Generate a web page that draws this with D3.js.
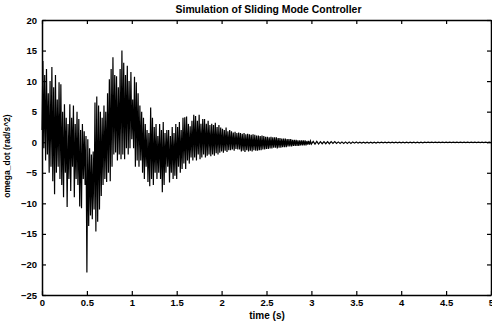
<!DOCTYPE html>
<html>
<head>
<meta charset="utf-8">
<script src="https://cdn.jsdelivr.net/npm/d3@7"></script>
<style>
  html, body { margin: 0; padding: 0; background: #fff; }
  svg text { font-family: "Liberation Sans", Arial, sans-serif; font-weight: bold; fill: #000; }
  .axis path, .axis line { stroke: #000; }
</style>
</head>
<body>
<svg id="chart" width="492" height="322"></svg>
<script>
// omega_dot (rad/s^2), sampled every 0.01 s from 0 to 2.99 s
const earlyStep = 0.01;
const omegaEarly = [
  2, 13.3, -1, 11, -3, 12, -2, 8, -5, 10,
  -4, 12.3, -6.4, 9, -8.5, 11, -5, 7, -4, 9.8,
  -6, 9.5, -7, 5, -9, 6.2, -5, 4, -10.6, 3,
  -6, 6.2, -8, 4, -4, 6, -9, 3, -6, 5,
  -7, 3.8, -10.5, 2, -10.8, 3, -6, 1.8, -7, 1,
  -21.3, 0.5, -13.7, -1, -12, -2, -12.6, -1.5, -11, 6.5,
  -14.6, 7.5, -13, 6, -11, 5, -8.8, 4, -7, 6,
  -6, 5, -6.5, 8, -5, 10.3, -6.4, 12, -4, 13.9,
  -2, 11, -1.7, 10.8, -3, 9, -2, 12, -2.8, 15,
  -2, 13, -2.8, 11, -1, 12.5, -2, 10, -1, 11.5,
  0.5, 7, -1, 10.7, -4, 9.8, -3, 8, -4, 6,
  -3, 5, -5, 4, -6, 3, -4, 2, -6.5, 1.5,
  -7.2, 5.7, -6, 4, -7, 2.5, -5, 3, -6, 1,
  -5, 3, -6, 2, -8.2, 3.3, -7, 1.5, -5, 2,
  -4, 2, -6.6, 1, -5, 2.5, -6, 1.5, -5.5, 3,
  -6, 2.5, -4, 3.3, -5, 2, -4.4, 4, -3.5, 4.1,
  -4.4, 4.2, -3, 3, -3.5, 2.6, -2.5, 3.5, -3, 4.5,
  -2.5, 4.3, -3, 3.5, -2, 4.5, -2.8, 3, -2.5, 3.8,
  -2, 3.8, -2.5, 3, -2.2, 3.5, -2, 2.8, -2.3, 3,
  -2, 2.8, -2.2, 3.2, -1.8, 2.5, -2, 2.8, -1.7, 2.4,
  -1.5, 2.2, -1.7, 2, -1.4, 2.4, -1.6, 1.8, -1.3, 2,
  -1.3, 1.8, -1.2, 1.6, -1.4, 1.7, -1.1, 1.5, -1.2, 1.6,
  -1.2, 1.5, -1.5, 1.4, -1.4, 1.5, -1.6, 1.3, -1.3, 1.4,
  -1.5, 1.3, -1.4, 1.2, -1.5, 1.3, -1.3, 1.2, -1.4, 1.1,
  -1.4, 1.1, -1.3, 1.0, -1.3, 1.1, -1.2, 1.0, -1.2, 0.9,
  -1.1, 0.9, -1.1, 0.8, -1.0, 0.9, -1.0, 0.8, -0.9, 0.8,
  -0.9, 0.8, -1.0, 0.7, -0.9, 0.7, -0.9, 0.6, -0.8, 0.6,
  -0.8, 0.6, -0.8, 0.5, -0.7, 0.5, -0.7, 0.5, -0.7, 0.4,
  -0.6, 0.4, -0.6, 0.4, -0.6, 0.3, -0.6, 0.3, -0.5, 0.3,
  -0.5, 0.3, -0.5, 0.3, -0.5, 0.2, -0.4, 0.2, -0.4, 0.2
];

// omega_dot (rad/s^2), sampled every 0.02 s from 3.00 s to 5.00 s
const lateStart = 3.0;
const lateStep = 0.02;
const omegaLate = [
  -0.3, 0.15, -0.3, 0.15, -0.3, 0.1, -0.25, 0.1, -0.25, 0.1,
  -0.25, 0.1, -0.2, 0.1, -0.2, 0.05, -0.2, 0.05, -0.2, 0.05,
  -0.2, 0.05, -0.2, 0.05, -0.15, 0.05, -0.15, 0, -0.15, 0,
  -0.15, 0, -0.15, 0, -0.15, 0, -0.15, 0, -0.1, 0,
  -0.1, 0, -0.1, 0, -0.1, 0, -0.1, 0, -0.1, 0,
  -0.1, 0, -0.1, 0, -0.1, 0, -0.1, 0, -0.1, 0,
  -0.1, 0, -0.1, 0, -0.05, 0, -0.05, 0, -0.05, 0,
  -0.05, 0, -0.05, 0, -0.05, 0, -0.05, 0, -0.05, 0,
  -0.05, 0, -0.05, 0, -0.05, 0, -0.05, 0, -0.05, 0,
  -0.05, 0, -0.05, 0, -0.05, 0, -0.05, 0, -0.05, 0,
  -0.05
];

const xTicks = [0, 0.5, 1, 1.5, 2, 2.5, 3, 3.5, 4, 4.5, 5];
const yTicks = [-25, -20, -15, -10, -5, 0, 5, 10, 15, 20];

const titleText = 'Simulation of Sliding Mode Controller';
const xLabel = 'time (s)';
const yLabel = 'omega_dot (rad/s^2)';

const W = 492;
const H = 322;
const margin = { top: 20, right: 1, bottom: 27, left: 42 };
const plotW = W - margin.left - margin.right;
const plotH = H - margin.top - margin.bottom;

const svg = d3.select('#chart');

const x = d3.scaleLinear().domain([0, 5]).range([0, plotW]);
const y = d3.scaleLinear().domain([-25, 20]).range([plotH, 0]);

const series = omegaEarly
  .map((v, i) => ({ t: i * earlyStep, v }))
  .concat(omegaLate.map((v, i) => ({ t: lateStart + i * lateStep, v })));

const root = svg.append('g')
  .attr('transform', `translate(${margin.left},${margin.top})`);

//
// Signal
//

root.append('path')
  .datum(series)
  .attr('fill', 'none')
  .attr('stroke', '#000')
  .attr('stroke-width', 1.2)
  .attr('d', d3.line().x(d => x(d.t)).y(d => y(d.v)));

//
// Axes (inward ticks on all four sides)
//

root.append('g')
  .attr('class', 'axis')
  .attr('transform', `translate(0,${plotH})`)
  .call(d3.axisBottom(x).tickValues(xTicks).tickSizeInner(-4).tickSizeOuter(0).tickPadding(4)
    .tickFormat(d3.format('')));

root.append('g')
  .attr('class', 'axis')
  .call(d3.axisLeft(y).tickValues(yTicks).tickSizeInner(-4).tickSizeOuter(0).tickPadding(5)
    .tickFormat(d => d < 0 ? '\u2212' + Math.abs(d) : d));

root.append('g')
  .attr('class', 'axis')
  .call(d3.axisTop(x).tickValues(xTicks).tickSizeInner(-4).tickSizeOuter(0).tickFormat(''));

root.append('g')
  .attr('class', 'axis')
  .attr('transform', `translate(${plotW},0)`)
  .call(d3.axisRight(y).tickValues(yTicks).tickSizeInner(-4).tickSizeOuter(0).tickFormat(''));

root.selectAll('.axis path').attr('stroke-width', 1.5);
root.selectAll('.axis line').attr('stroke-width', 1.2);
root.selectAll('.axis text').attr('font-size', 9.5)
  .style('font-family', '"Liberation Sans", Arial, sans-serif')
  .style('font-weight', 'bold');

//
// Titles
//

svg.append('text')
  .attr('x', margin.left + plotW / 2 + 2)
  .attr('y', 13)
  .attr('text-anchor', 'middle')
  .attr('font-size', 10.4)
  .text(titleText);

svg.append('text')
  .attr('x', 267)
  .attr('y', 319)
  .attr('text-anchor', 'middle')
  .attr('font-size', 10)
  .text(xLabel);

svg.append('text')
  .attr('transform', `translate(10,156) rotate(-90)`)
  .attr('text-anchor', 'middle')
  .attr('font-size', 8.5)
  .text(yLabel);
</script>
</body>
</html>
